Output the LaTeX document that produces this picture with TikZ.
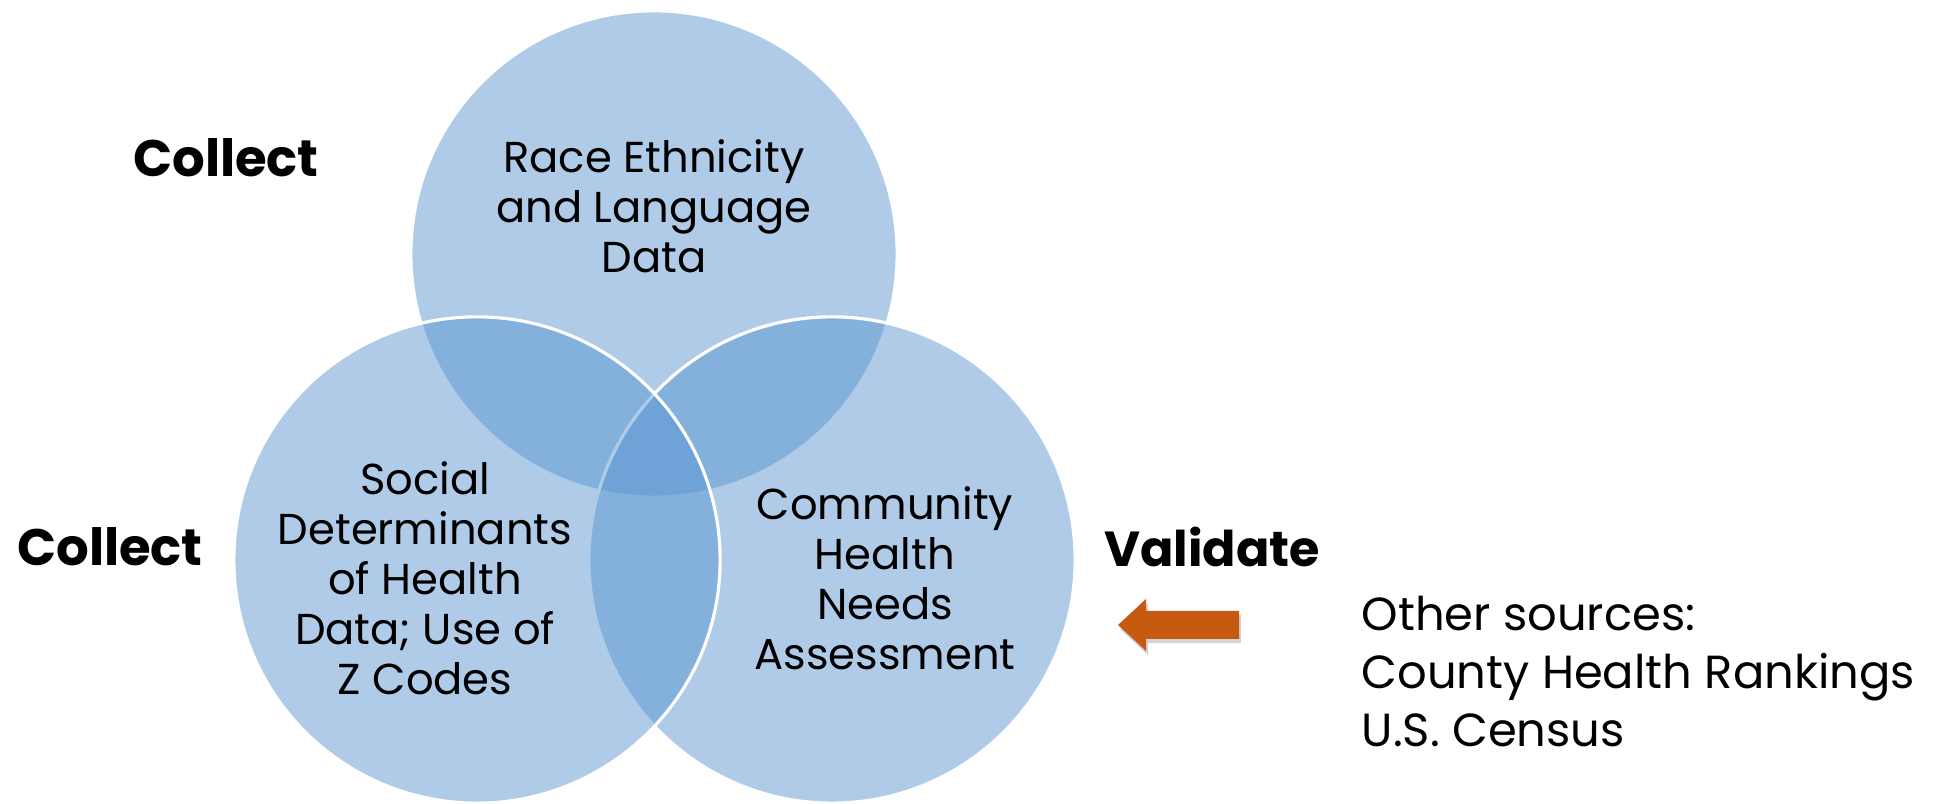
\documentclass[tikz,border=0pt]{standalone}
\usepackage{fontspec}
\setmainfont{Poppins}
\usetikzlibrary{positioning,shadows}
\definecolor{vennblue}{RGB}{87,147,207}
\definecolor{arroworange}{RGB}{197,90,17}

\begin{document}
\begin{tikzpicture}[x=0.01cm, y=0.01cm,
    venn/.style={circle, draw=white, line width=0.9pt, fill=vennblue, fill opacity=0.48, minimum size=4.86cm, inner sep=0pt},
    txt/.style={align=center, font=\fontsize{12.3}{14.2}\selectfont, inner sep=0pt},
    tag/.style={font=\fontsize{14.6}{18}\selectfont\bfseries, inner sep=0pt}]
    \useasboundingbox (0,0) rectangle (1941,804);
    % Circles
    \node [venn] (race) at (654,550) {};
    \node [venn] (chna) at (832,244) {};
    \node [venn] (sdoh) at (477,244) {};
    % Texts
    \node [txt] (racetxt) at (654,598) {Race Ethnicity\\and Language\\Data};
    \node [txt] (sdohtxt) at (425,226) {Social\\Determinants\\of Health\\Data; Use of\\Z Codes};
    \node [txt] (chnatxt) at (885,226) {Community\\Health\\Needs\\Assessment};
    \node [tag] (collect1) at (226,646) {Collect};
    \node [tag] (collect2) at (110,257) {Collect};
    \node [tag, font=\fontsize{14}{18}\selectfont\bfseries] (validate) at (1212,257) {Validate};
    % Arrow pointing back at the circles
    \fill [arroworange, drop shadow={opacity=0.35, shadow xshift=0.6pt, shadow yshift=-1.2pt}]
        (1239,193) -- (1146,193) -- (1146,205) -- (1118,179) -- (1146,153) -- (1146,165) -- (1239,165) -- cycle;
    \node [txt, align=left, anchor=west, font=\fontsize{13.2}{16.5}\selectfont] (sources) at (1361,132)
           {Other sources:\\County Health Rankings\\U.S. Census};
\end{tikzpicture}
\end{document}
